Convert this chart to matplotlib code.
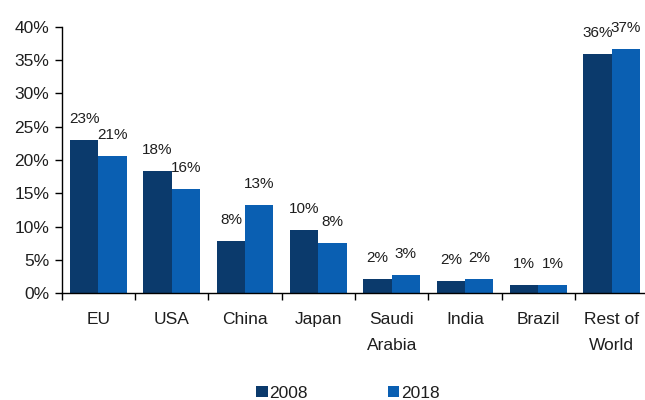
import matplotlib
matplotlib.use("Agg")
import matplotlib.pyplot as plt
import numpy as np
from matplotlib.patches import Patch

# Share of total, by region (percent)
categories = ["EU", "USA", "China", "Japan", "Saudi\nArabia", "India", "Brazil", "Rest of\nWorld"]
share_2008 = [23.0, 18.4, 7.9, 9.5, 2.2, 1.9, 1.3, 35.9]
share_2018 = [20.6, 15.7, 13.3, 7.6, 2.8, 2.2, 1.3, 36.6]
series_names = ["2008", "2018"]
y_ticks = [0, 5, 10, 15, 20, 25, 30, 35, 40]

colors = ["#0b3a6c", "#0a5fb2"]
font = ["Liberation Sans Narrow", "Liberation Sans", "DejaVu Sans"]
fs = 12.5
text_col = "#1e1e1e"

plt.rcParams["font.family"] = font

fig = plt.figure(figsize=(6.45, 4.0), dpi=100)
ax = fig.add_axes([61.7 / 645, 106.7 / 400, (648.4 - 61.7) / 645, 266.7 / 400])

x = np.arange(len(categories))
w = 0.385
for vals, off, col in ((share_2008, -w / 2, colors[0]), (share_2018, w / 2, colors[1])):
    bars = ax.bar(x + off, vals, width=w, color=col, edgecolor="none")
    for b, v in zip(bars, vals):
        ax.annotate(f"{int(v + 0.5)}%", (b.get_x() + b.get_width() / 2, v),
                    xytext=(0, 12.2), textcoords="offset points",
                    ha="center", va="baseline", fontsize=11, color=text_col)

ax.set_xlim(-0.5, 7.5)
ax.set_ylim(0, 40)
ax.set_yticks(y_ticks)
ax.set_yticklabels([f"{t}%" for t in y_ticks])

# category boundaries carry the tick marks, centres carry the names
ax.set_xticks(np.arange(-0.5, 8.0, 1.0))
ax.set_xticklabels([])
ax.set_xticks(x, minor=True)
ax.set_xticklabels(categories, minor=True, fontsize=fs, color=text_col, linespacing=1.9)
ax.tick_params(axis="x", which="minor", length=0, pad=13.5)
ax.tick_params(axis="x", which="major", length=5, width=1, direction="out", color="black")
ax.tick_params(axis="y", length=5, width=1, direction="out", pad=4, labelsize=fs,
               labelcolor=text_col)

for s in ("top", "right"):
    ax.spines[s].set_visible(False)
for s in ("left", "bottom"):
    ax.spines[s].set_linewidth(1.0)
    ax.spines[s].set_color("black")

handles = [Patch(facecolor=c, edgecolor="none") for c in colors]
fig.legend(handles, series_names, loc="center", bbox_to_anchor=(348 / 645, 7 / 400),
           ncol=2, frameon=False, fontsize=fs, handlelength=0.65, handleheight=0.65,
           handletextpad=0.1, columnspacing=4.6, labelcolor=text_col)

fig.savefig("out.png", dpi=100)
